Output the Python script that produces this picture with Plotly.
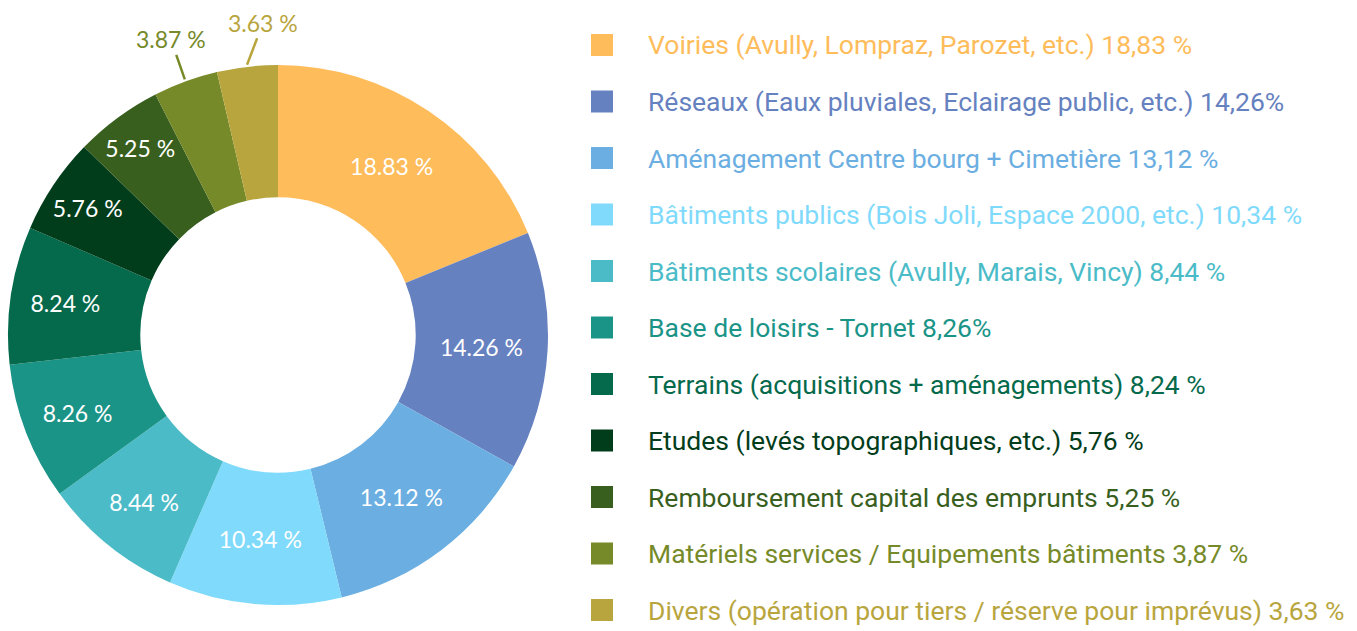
import math
import plotly.graph_objects as go

# Répartition des investissements (%)
labels = [
    "Voiries (Avully, Lompraz, Parozet, etc.) 18,83 %",
    "Réseaux (Eaux pluviales, Eclairage public, etc.) 14,26%",
    "Aménagement Centre bourg + Cimetière 13,12 %",
    "Bâtiments publics (Bois Joli, Espace 2000, etc.) 10,34 %",
    "Bâtiments scolaires (Avully, Marais, Vincy) 8,44 %",
    "Base de loisirs - Tornet 8,26%",
    "Terrains (acquisitions + aménagements) 8,24 %",
    "Etudes (levés topographiques, etc.) 5,76 %",
    "Remboursement capital des emprunts 5,25 %",
    "Matériels services / Equipements bâtiments 3,87 %",
    "Divers (opération pour tiers / réserve pour imprévus) 3,63 %",
]
values = [18.83, 14.26, 13.12, 10.34, 8.44, 8.26, 8.24, 5.76, 5.25, 3.87, 3.63]
colors = ["#FEBC5B", "#6681C0", "#6BAEE1", "#7FDAFB", "#4BBBC7", "#1B9488",
          "#056A4B", "#023D1B", "#385F1E", "#768A29", "#B9A53E"]
# the two small slices get their label outside, with a leader line
outside = [False] * 9 + [True] * 2
label_offsets = {9: (-14, -40), 10: (16, -42)}

W, H = 1357, 631
dom_x = [8 / W, 548 / W]
dom_y = [26 / H, 566 / H]

fig = go.Figure(go.Pie(
    labels=labels,
    values=values,
    sort=False,
    direction="clockwise",
    rotation=0,
    hole=0.51,
    marker=dict(colors=colors, line=dict(width=0)),
    texttemplate="%{value:.2f} %",
    textposition=["none" if o else "inside" for o in outside],
    insidetextorientation="horizontal",
    textfont=dict(family="Lato", size=23, color="white"),
    showlegend=False,
    domain=dict(x=dom_x, y=dom_y),
))

# outside labels: anchored on the outer edge at the slice's mid angle
cx = (dom_x[0] + dom_x[1]) / 2 * W
cy = (1 - (dom_y[0] + dom_y[1]) / 2) * H
r = min((dom_x[1] - dom_x[0]) * W, (dom_y[1] - dom_y[0]) * H) / 2
total = sum(values)
cum = 0
for i, v in enumerate(values):
    mid = (cum + v / 2) / total * 2 * math.pi
    cum += v
    if not outside[i]:
        continue
    px_ = cx + (r + 2) * math.sin(mid)
    py_ = cy - (r + 2) * math.cos(mid)
    ax, ay = label_offsets[i]
    fig.add_annotation(xref="paper", yref="paper", x=px_ / W, y=1 - py_ / H,
                       ax=ax, ay=ay, showarrow=True, arrowhead=0, arrowwidth=2.5,
                       arrowcolor=colors[i], standoff=0,
                       text=f"{v:.2f} %",
                       font=dict(family="Lato", size=23, color=colors[i]))

# custom legend: coloured squares + coloured text
top_y = 45
step = 56.5
for i, (lab, col) in enumerate(zip(labels, colors)):
    yc = 1 - (top_y + i * step) / H
    fig.add_shape(type="rect", xref="paper", yref="paper",
                  x0=591 / W, x1=613 / W,
                  y0=yc - 11 / H, y1=yc + 11 / H,
                  fillcolor=col, line=dict(width=0))
    fig.add_annotation(xref="paper", yref="paper", x=646 / W, y=yc,
                       text=lab, showarrow=False, xanchor="left", yanchor="middle",
                       font=dict(family="Roboto", size=26.5, color=col))

fig.update_layout(
    width=W, height=H,
    margin=dict(l=0, r=0, t=0, b=0),
    paper_bgcolor="white",
    plot_bgcolor="white",
)

fig.write_html("out.html", config={"displayModeBar": False},
               post_script="document.body.style.margin='0';")
